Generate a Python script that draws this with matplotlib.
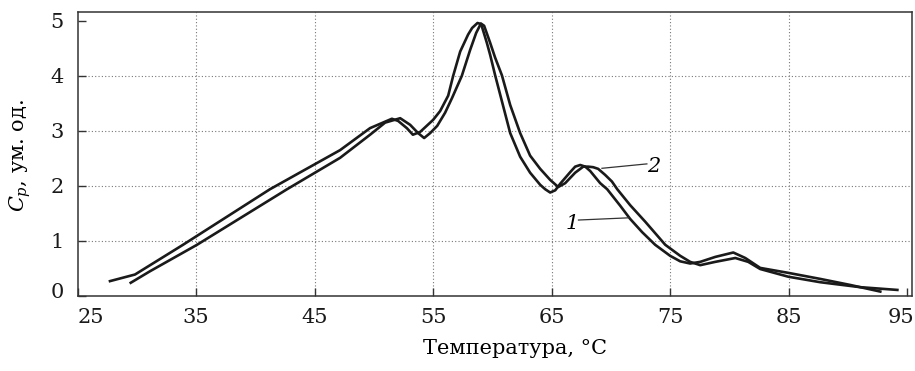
import matplotlib
matplotlib.use("Agg")
import matplotlib.pyplot as plt
import matplotlib.transforms as mtransforms

# curve 1 (starts earlier, shifted left)
t1 = [27.74, 29.85, 33.90, 41.24, 47.15, 49.68, 51.52, 52.05, 52.78, 53.29,
      53.90, 55.00, 55.59, 56.27, 56.69, 57.28, 57.95, 58.29, 58.74, 59.05,
      59.53, 59.81, 60.23, 61.50, 62.34, 63.18, 64.03, 64.45, 64.87, 65.30,
      65.72, 66.56, 66.98, 67.41, 67.83, 68.25, 69.09, 69.68, 70.78, 71.62,
      72.63, 73.73, 74.99, 75.84, 76.68, 77.53, 78.80, 80.32, 81.33, 82.59,
      84.96, 87.66, 90.19, 92.72]
cp1 = [0.27, 0.39, 0.93, 1.94, 2.65, 3.05, 3.22, 3.18, 3.05, 2.93,
       2.98, 3.20, 3.36, 3.64, 4.00, 4.44, 4.75, 4.87, 4.96, 4.94,
       4.60, 4.38, 4.01, 2.96, 2.53, 2.24, 2.02, 1.94, 1.88, 1.92,
       2.04, 2.25, 2.35, 2.38, 2.35, 2.27, 2.05, 1.94, 1.64, 1.40,
       1.16, 0.93, 0.73, 0.63, 0.59, 0.62, 0.71, 0.79, 0.69, 0.51,
       0.42, 0.31, 0.20, 0.08]

# curve 2
t2 = [29.49, 31.12, 35.08, 42.68, 47.15, 49.68, 50.95, 52.22, 53.06, 53.73,
      54.24, 54.75, 55.34, 56.01, 56.60, 57.42, 58.12, 58.63, 59.03, 59.30,
      59.81, 60.23, 60.80, 61.50, 62.34, 63.18, 64.03, 64.87, 65.55, 66.14,
      66.98, 67.66, 68.08, 68.50, 68.92, 69.51, 70.08, 70.53, 71.62, 72.89,
      74.58, 75.84, 76.68, 77.53, 78.80, 80.49, 81.58, 82.59, 84.96, 87.66,
      91.03, 94.16]
cp2 = [0.24, 0.45, 0.93, 1.94, 2.51, 2.93, 3.15, 3.23, 3.11, 2.96,
       2.87, 2.96, 3.09, 3.33, 3.60, 4.00, 4.47, 4.78, 4.95, 4.91,
       4.60, 4.33, 4.01, 3.47, 2.96, 2.55, 2.31, 2.11, 1.98, 2.05,
       2.24, 2.35, 2.35, 2.34, 2.31, 2.20, 2.08, 1.94, 1.65, 1.35,
       0.93, 0.73, 0.62, 0.56, 0.62, 0.69, 0.62, 0.49, 0.35, 0.25,
       0.16, 0.11]

xticks = [25, 35, 45, 55, 65, 75, 85, 95]
yticks = [0, 1, 2, 3, 4, 5]

plt.rcParams['font.family'] = ['DejaVu Serif']
plt.rcParams['mathtext.fontset'] = 'dejavuserif'

fig = plt.figure(figsize=(9.15, 3.71), dpi=100)
ax = fig.add_axes([0.0847, 0.2022, 0.9121, 0.7655])

ax.plot(t1, cp1, color='#1a1a1a', lw=1.9, solid_joinstyle='round')
ax.plot(t2, cp2, color='#1a1a1a', lw=1.9, solid_joinstyle='round')

ax.set_xlim(25, 95.4)
ax.set_ylim(0, 5.16)
ax.set_xticks(xticks)
ax.set_yticks(yticks)
ax.tick_params(direction='in', length=6, width=1, colors='#333333',
               labelcolor='#1a1a1a', labelsize=15)
ax.tick_params(axis='x', pad=9)
ax.tick_params(axis='y', pad=10)

ax.grid(True, linestyle=(0, (1, 2)), color='#777777', lw=0.8)
# no grid at the borders
for gl, v in zip(ax.get_xgridlines(), xticks):
    if v in (25, 95):
        gl.set_visible(False)
for gl, v in zip(ax.get_ygridlines(), yticks):
    if v in (0, 5):
        gl.set_visible(False)

for s in ax.spines.values():
    s.set_color('#333333')
    s.set_linewidth(1.1)

fig.canvas.draw()
xl = ax.get_xticklabels()
xl[0].set_ha('left')
xl[-1].set_transform(xl[-1].get_transform() +
                     mtransforms.ScaledTranslation(-6 / 100, 0, fig.dpi_scale_trans))
yl = ax.get_yticklabels()
yl[0].set_transform(yl[0].get_transform() +
                    mtransforms.ScaledTranslation(0, 5 / 100, fig.dpi_scale_trans))

ax.set_xlabel('Температура, °C', fontsize=15)
ax.xaxis.set_label_coords(0.524, -0.152)
ax.set_ylabel(r'$C_p$, ум. од.', fontsize=15)
ax.yaxis.set_label_coords(-0.053, 0.496)

# curve labels
ax.plot([69.24, 73.03], [2.32, 2.40], color='#333333', lw=0.9)
ax.text(73.57, 2.35, '2', fontsize=15, style='italic', ha='center', va='center')
ax.plot([67.26, 71.48], [1.38, 1.42], color='#333333', lw=0.9)
ax.text(66.70, 1.32, '1', fontsize=15, style='italic', ha='center', va='center')

fig.savefig('out.png', dpi=100)
